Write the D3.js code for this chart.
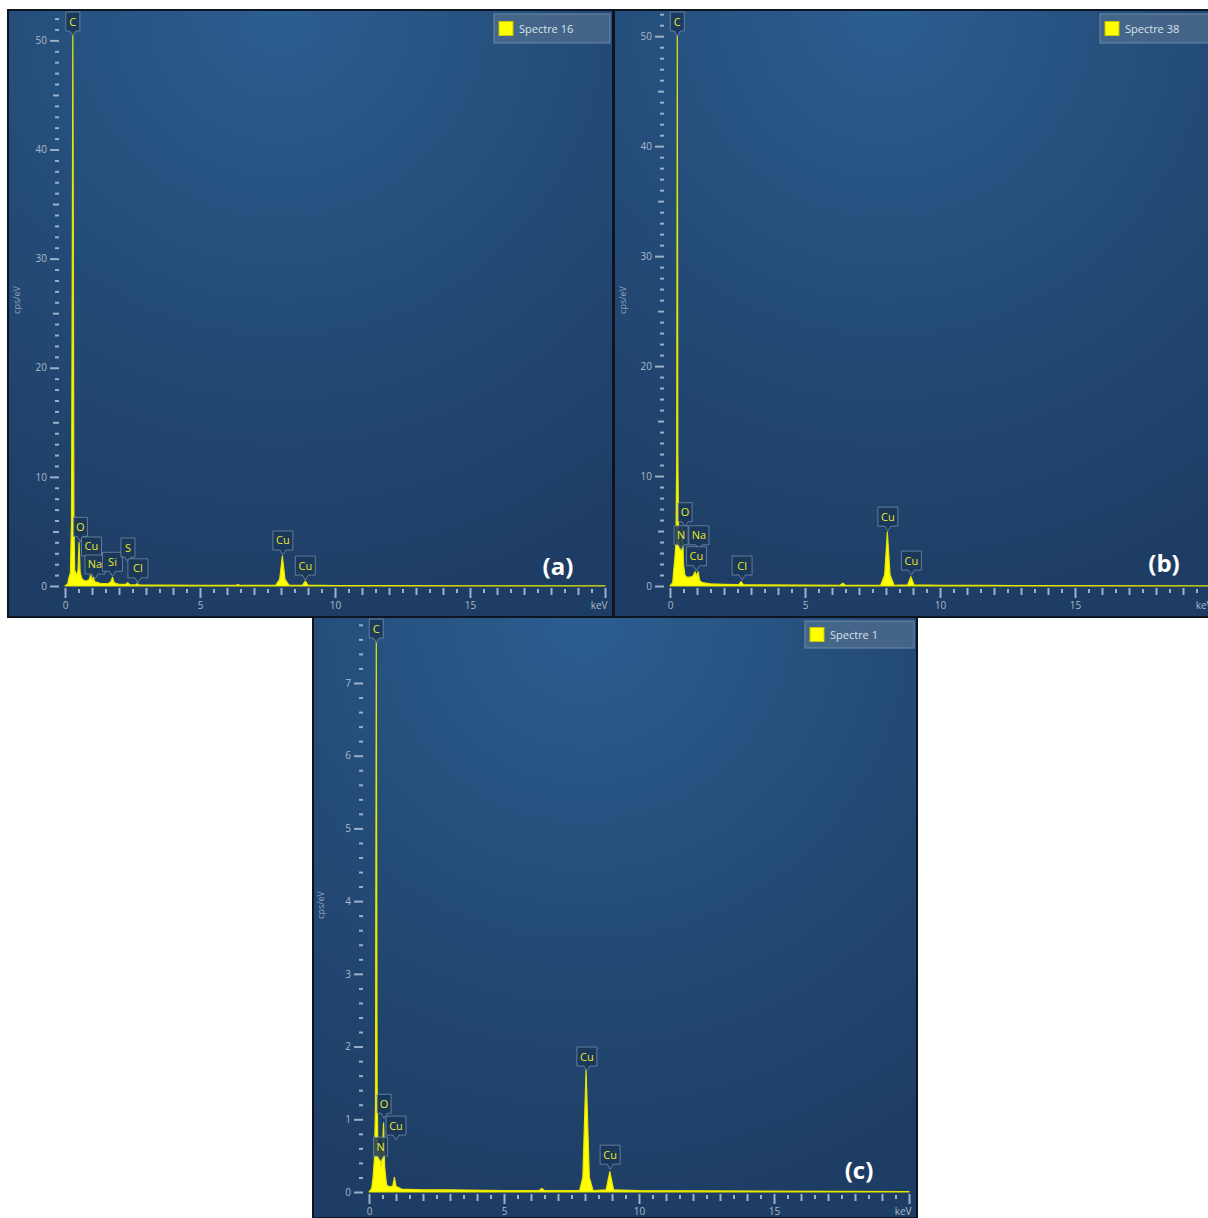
<!DOCTYPE html>
<html>
<head>
<meta charset="utf-8">
<script src="https://cdn.jsdelivr.net/npm/d3@7"></script>
<style>
  body { margin: 0; background: #fff; }
  svg { display: block; }
  text { font-family: "Open Sans", "DejaVu Sans", sans-serif; }
</style>
</head>
<body>
<div id="chart"></div>
<script>
// spectra: [keV, cps/eV]
var spectreA = [[0,0],[0.1,0.2],[0.15,0.8],[0.2,1.2],[0.24,6],[0.27,30],[0.29,50.8],[0.31,30],[0.33,6],[0.36,1.5],
  [0.42,1.0],[0.48,1.4],[0.52,4.0],[0.56,1.3],[0.62,0.7],[0.7,0.5],[0.8,0.45],[0.9,0.6],[0.95,1.0],[1.0,0.6],
  [1.04,0.8],[1.1,0.4],[1.3,0.25],[1.6,0.2],[1.7,0.4],[1.76,0.8],[1.82,0.3],[2.0,0.15],[2.25,0.15],[2.32,0.3],
  [2.4,0.12],[2.6,0.1],[2.66,0.2],[2.75,0.1],[3.5,0.08],[5,0.06],[6.3,0.05],[6.4,0.12],[6.5,0.05],[7.8,0.05],
  [7.95,0.6],[8.05,2.75],[8.15,0.6],[8.3,0.05],[8.8,0.08],[8.9,0.45],[9.0,0.08],[10,0.04],[12,0.03],[15,0.02],[20,0.01]];

var spectreB = [[0,0],[0.1,0.3],[0.14,1.5],[0.18,2.5],[0.22,4],[0.25,12],[0.27,50],[0.29,12],[0.32,4.5],[0.36,3.5],
  [0.4,3.2],[0.43,4],[0.46,5.3],[0.5,2],[0.55,1.0],[0.62,0.8],[0.75,0.8],[0.85,0.9],[0.93,1.3],[0.98,0.9],
  [1.04,1.3],[1.1,0.5],[1.2,0.3],[1.5,0.2],[2.0,0.15],[2.55,0.12],[2.63,0.4],[2.72,0.12],[3.5,0.1],[5,0.08],
  [6.3,0.06],[6.4,0.25],[6.5,0.06],[7.8,0.05],[7.95,1.0],[8.05,4.9],[8.15,1.0],[8.3,0.06],[8.8,0.1],[8.92,0.85],
  [9.04,0.1],[10,0.05],[11.5,0.06],[13,0.03],[20,0.01]];

var spectreC = [[0,0],[0.1,0.05],[0.15,0.2],[0.2,0.45],[0.24,1.2],[0.27,7.6],[0.3,1.5],[0.33,0.55],[0.38,0.5],[0.42,0.6],
  [0.46,0.35],[0.5,0.6],[0.54,0.95],[0.58,0.35],[0.65,0.1],[0.75,0.07],[0.88,0.08],[0.94,0.2],[1.0,0.08],[1.2,0.04],
  [2,0.03],[3,0.03],[5,0.02],[6.3,0.02],[6.4,0.05],[6.5,0.02],[7.8,0.02],[7.92,0.2],[8.04,1.68],[8.16,0.2],
  [8.3,0.02],[8.78,0.03],[8.92,0.28],[9.06,0.03],[10,0.02],[20,0.005]];

// element labels: [element, keV, cps at pointer tip]
var labelsA = [["C",0.29,50.8],["O",0.57,4.0],["Cu",0.98,2.2],["Na",1.11,0.55],["Si",1.76,0.8],
  ["S",2.33,2.1],["Cl",2.7,0.2],["Cu",8.07,2.75],["Cu",8.9,0.45]];
var labelsB = [["C",0.27,50],["O",0.56,5.3],["N",0.41,3.2],["Na",1.07,3.2],["Cu",0.98,1.3],
  ["Cl",2.67,0.45],["Cu",8.07,4.9],["Cu",8.94,0.9]];
var labelsC = [["C",0.27,7.6],["O",0.56,1.0],["N",0.43,0.41],["Cu",1.0,0.7],["Cu",8.07,1.65],["Cu",8.93,0.3]];

var legendNames = ["Spectre 16", "Spectre 38", "Spectre 1"];
var panelTags = ["(a)", "(b)", "(c)"];
var yMaxes = [52.6, 52.2, 7.88];

var svg = d3.select("#chart").append("svg")
  .attr("width", 1208)
  .attr("height", 1218);

var defs = svg.append("defs");
var grad = defs.append("radialGradient")
  .attr("id", "bg")
  .attr("cx", 0.45).attr("cy", 0.0).attr("r", 1.0);
grad.append("stop").attr("offset", "0%").attr("stop-color", "#2c5e90");
grad.append("stop").attr("offset", "55%").attr("stop-color", "#234a76");
grad.append("stop").attr("offset", "100%").attr("stop-color", "#1e3d64");

// panel boxes and plot ranges in page pixels
var panels = [
  {x: 8, y: 10, w: 605, h: 607, x0: 65, x1: 605, yb: 586, yt: 12, legX: 494, legY: 14, legW: 116, legH: 29, tagX: 558, tagY: 575, titleX: 20, titleY: 300,
    data: spectreA, labels: labelsA, minor: 1, medium: 5, major: 10},
  {x: 614, y: 10, w: 605, h: 607, x0: 670, x1: 1210, yb: 586, yt: 12, legX: 1100, legY: 14, legW: 116, legH: 29, tagX: 1164, tagY: 572, titleX: 626, titleY: 300,
    data: spectreB, labels: labelsB, minor: 1, medium: 5, major: 10},
  {x: 313, y: 617, w: 604, h: 601, x0: 369, x1: 909, yb: 1192, yt: 619, legX: 805, legY: 621, legW: 109, legH: 27, tagX: 859, tagY: 1179, titleX: 324, titleY: 905,
    data: spectreC, labels: labelsC, minor: 0.2, medium: null, major: 1}
];

function range(a, b, step) {
  var out = [];
  var n = Math.round((b - a) / step);
  for (var i = 0; i <= n; i++) out.push(+(a + i * step).toFixed(4));
  return out;
}

panels.forEach(function(p, i) {
  var g = svg.append("g");

  g.append("rect")
    .attr("x", p.x).attr("y", p.y)
    .attr("width", p.w).attr("height", p.h)
    .attr("fill", "url(#bg)")
    .attr("stroke", "#0d1620")
    .attr("stroke-width", 2);

  var xScale = d3.scaleLinear().domain([0, 20]).range([p.x0, p.x1]);
  var yScale = d3.scaleLinear().domain([0, yMaxes[i]]).range([p.yb, p.yt]);

  var clipId = "clip" + i;
  defs.append("clipPath").attr("id", clipId)
    .append("rect")
    .attr("x", p.x + 1).attr("y", p.y + 1)
    .attr("width", p.w - 2).attr("height", p.h - 2);

  // x ticks: 0.5 keV small, 1 keV medium, 5 keV labelled
  var tickColor = "#9cb0c6";
  var xAxisG = g.append("g").attr("transform", "translate(0," + (p.yb + 2) + ")");
  var xSmall = range(0, 20, 0.5).filter(function(v) { return v % 1 !== 0; });
  var xMid = range(0, 20, 1).filter(function(v) { return v % 5 !== 0; });
  var xBig = range(0, 20, 5);

  [[xSmall, 4], [xMid, 7], [xBig, 10]].forEach(function(t, k) {
    var ax = d3.axisBottom(xScale).tickValues(t[0]).tickSize(t[1]).tickPadding(4)
      .tickFormat(function(v) { return k === 2 ? (v === 20 ? "keV" : v) : ""; });
    var sel = xAxisG.append("g").call(ax);
    sel.select(".domain").remove();
    sel.selectAll("line").attr("stroke", tickColor).attr("stroke-width", 2)
      .attr("transform", "translate(0," + (k === 0 ? 1 : 0) + ")");
    sel.selectAll("text").attr("fill", "#a9bacb").attr("font-size", 10);
  });
  xAxisG.selectAll("text").filter(function(v) { return v === 20; }).attr("text-anchor", "end").attr("dx", 2);

  // y ticks
  var yAxisG = g.append("g").attr("transform", "translate(" + (p.x0 - 6) + ",0)");
  var ySmall = range(0, Math.floor(yMaxes[i] / p.minor) * p.minor, p.minor).filter(function(v) {
    return Math.abs(v / p.major - Math.round(v / p.major)) > 1e-6 && (!p.medium || Math.abs(v / p.medium - Math.round(v / p.medium)) > 1e-6);
  });
  var yMid = p.medium ? range(0, yMaxes[i], p.medium).filter(function(v) { return v % p.major !== 0; }) : [];
  var yBig = range(0, Math.floor(yMaxes[i] / p.major) * p.major, p.major);

  [[ySmall, 4], [yMid, 6], [yBig, 9]].forEach(function(t, k) {
    var ax = d3.axisLeft(yScale).tickValues(t[0]).tickSize(t[1]).tickPadding(3)
      .tickFormat(function(v) { return k === 2 ? v : ""; });
    var sel = yAxisG.append("g").call(ax);
    sel.select(".domain").remove();
    sel.selectAll("line").attr("stroke", tickColor).attr("stroke-width", 2);
    sel.selectAll("text").attr("fill", "#a9bacb").attr("font-size", 10);
  });

  // axis title
  g.append("text")
    .attr("transform", "translate(" + p.titleX + "," + p.titleY + ") rotate(-90)")
    .attr("text-anchor", "middle")
    .attr("font-size", 9)
    .attr("fill", "#8ea3b9")
    .text("cps/eV");

  // spectrum
  var area = d3.area()
    .x(function(d) { return xScale(d[0]); })
    .y0(yScale(0))
    .y1(function(d) { return yScale(d[1]); });

  g.append("path")
    .datum(p.data)
    .attr("clip-path", "url(#" + clipId + ")")
    .attr("d", area)
    .attr("fill", "#ffff00")
    .attr("stroke", "#e6e600")
    .attr("stroke-width", 1.2)
    .attr("stroke-linejoin", "round");

  // element labels with pointer
  var labG = g.append("g");
  p.labels.forEach(function(l) {
    var tx = xScale(l[1]);
    var ty = yScale(l[2]) - 1;
    var bw = l[0].length > 1 ? 20 : 14;
    var bh = 19;
    var bx = tx - bw / 2;
    var by = Math.max(ty - 5 - bh, p.y + 2);
    var lg = labG.append("g");
    lg.append("path")
      .attr("d", "M" + bx + "," + by + "h" + bw + "v" + bh + "h" + (-(bw / 2 - 3)) +
        "L" + tx + "," + (by + bh + 5) + "L" + (tx - 3) + "," + (by + bh) + "H" + bx + "Z")
      .attr("fill", "#1b3657")
      .attr("fill-opacity", 0.85)
      .attr("stroke", "#7f97b0")
      .attr("stroke-opacity", 0.7)
      .attr("stroke-width", 1);
    lg.append("text")
      .attr("x", tx).attr("y", by + 13.5)
      .attr("text-anchor", "middle")
      .attr("font-size", 11)
      .attr("fill", "#e9e92a")
      .text(l[0]);
  });

  // legend
  g.append("rect")
    .attr("x", p.legX).attr("y", p.legY)
    .attr("width", p.legW).attr("height", p.legH)
    .attr("fill", "#4f6d8d").attr("fill-opacity", 0.75)
    .attr("stroke", "#6f8aa6").attr("stroke-width", 1);
  g.append("rect")
    .attr("x", p.legX + 5).attr("y", p.legY + p.legH / 2 - 7)
    .attr("width", 14).attr("height", 14)
    .attr("fill", "#ffff00").attr("stroke", "#c8c800");
  g.append("text")
    .attr("x", p.legX + 25).attr("y", p.legY + p.legH / 2 + 4)
    .attr("font-size", 11)
    .attr("fill", "#dbe3ec")
    .text(legendNames[i]);

  // panel tag
  g.append("text")
    .attr("x", p.tagX).attr("y", p.tagY)
    .attr("text-anchor", "middle")
    .attr("font-size", 24)
    .attr("font-weight", 700)
    .attr("fill", "#ffffff")
    .text(panelTags[i]);
});
</script>
</body>
</html>
